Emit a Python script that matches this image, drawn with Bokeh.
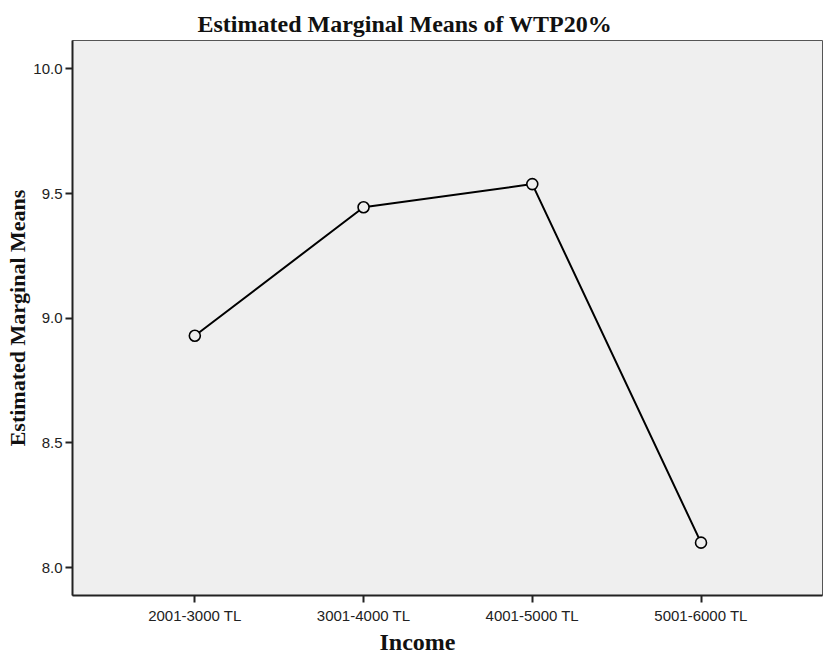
from bokeh.plotting import figure
from bokeh.models import Range1d, FixedTicker, Title, NumeralTickFormatter
from bokeh.embed import file_html
from bokeh.resources import INLINE

categories = ["2001-3000 TL", "3001-4000 TL", "4001-5000 TL", "5001-6000 TL"]
means = [8.93, 9.445, 9.538, 8.10]
y_ticks = [8.0, 8.5, 9.0, 9.5, 10.0]
title_text = "Estimated Marginal Means of WTP20%"
x_label = "Income"
y_label = "Estimated Marginal Means"

x = list(range(len(categories)))

p = figure(width=823, height=654, output_backend="svg", toolbar_location=None,
           x_range=Range1d(-0.725, 3.72), y_range=Range1d(7.888, 10.114),
           min_border_left=72, min_border_right=1, min_border_top=40,
           min_border_bottom=0)
p.background_fill_color = "#efefef"
p.border_fill_color = "white"
p.outline_line_color = "#555555"
p.outline_line_width = 1
p.xgrid.visible = False
p.ygrid.visible = False

p.title.text = title_text
p.title.align = "left"
p.title.offset = 125
p.title.text_font = "Liberation Serif"
p.title.text_font_style = "bold"
p.title.text_font_size = "24px"
p.title.text_color = "#111111"
p.title.standoff = 8

for ax in (p.xaxis[0], p.yaxis[0]):
    ax.axis_line_color = "#222222"
    ax.axis_line_width = 2
    ax.major_tick_line_color = "#222222"
    ax.major_tick_line_width = 2
    ax.major_tick_out = 7
    ax.major_tick_in = 0
    ax.minor_tick_line_color = None
    ax.major_label_text_font = "Liberation Sans"
    ax.major_label_text_font_size = "15px"
    ax.major_label_text_color = "#222222"
    ax.major_label_standoff = 3

p.xaxis.ticker = FixedTicker(ticks=x)
p.xaxis.major_label_overrides = {i: c for i, c in zip(x, categories)}
p.xaxis.major_label_standoff = 4

p.yaxis.ticker = FixedTicker(ticks=y_ticks)
p.yaxis.formatter = NumeralTickFormatter(format="0.0")
p.yaxis.axis_label = y_label
p.yaxis.axis_label_text_font = "Liberation Serif"
p.yaxis.axis_label_text_font_style = "bold"
p.yaxis.axis_label_text_font_size = "22px"
p.yaxis.axis_label_text_color = "#111111"
p.yaxis.axis_label_standoff = 0

p.add_layout(Title(text=x_label, align="left", offset=307,
                   text_font="Liberation Serif", text_font_style="bold",
                   text_font_size="24px", text_color="#111111", standoff=0),
             "below")

p.line(x, means, line_color="black", line_width=2)
p.scatter(x, means, marker="circle", size=11, fill_color="#efefef",
          line_color="black", line_width=1.6)

open("out.html", "w").write(file_html(p, INLINE))
